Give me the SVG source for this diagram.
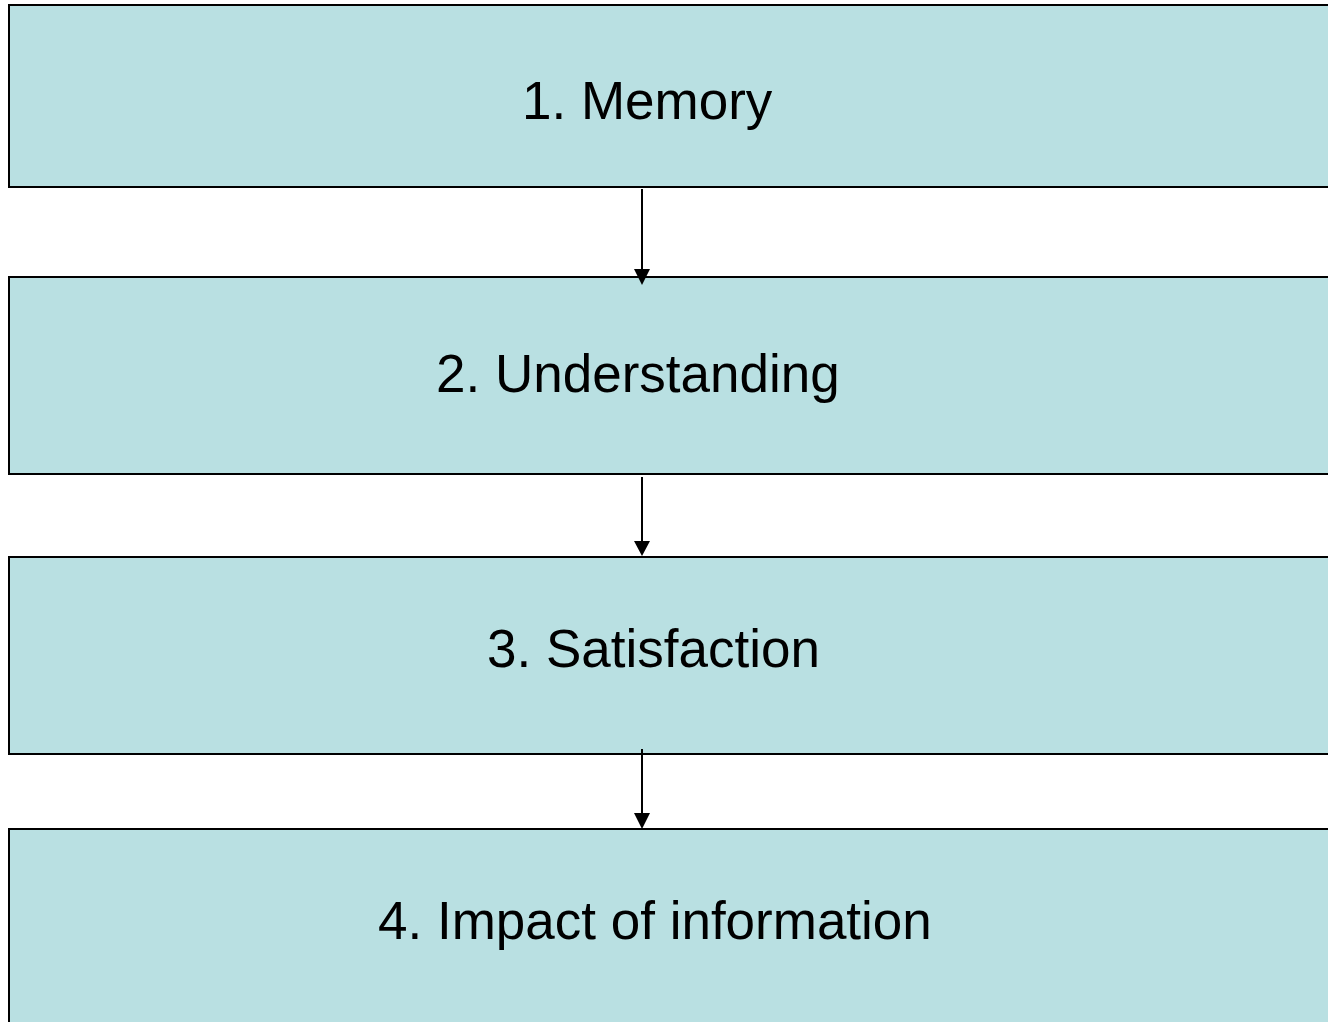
<svg xmlns="http://www.w3.org/2000/svg" width="1328" height="1022" viewBox="0 0 1328 1022">
  <style>
    .box { fill: #B9E0E2; stroke: #000; stroke-width: 2; }
    .label { font-family: "Liberation Sans", Arial, sans-serif; font-size: 53px; fill: #000; }
    .link { stroke: #000; stroke-width: 2; fill: none; }
    .head { fill: #000; }
  </style>
  <rect width="1328" height="1022" fill="#fff"/>

  <g id="node-memory">
    <rect class="box" x="9" y="5" width="1340" height="182"/>
    <text class="label" x="522" y="119">1. Memory</text>
  </g>
  <g id="node-understanding">
    <rect class="box" x="9" y="277" width="1340" height="197"/>
    <text class="label" x="436" y="392">2. Understanding</text>
  </g>
  <g id="node-satisfaction">
    <rect class="box" x="9" y="557" width="1340" height="197"/>
    <text class="label" x="487" y="667">3. Satisfaction</text>
  </g>
  <g id="node-impact">
    <rect class="box" x="9" y="829" width="1340" height="210"/>
    <text class="label" x="378" y="939">4. Impact of information</text>
  </g>

  <g id="connectors">
    <line class="link" x1="642" y1="189" x2="642" y2="272"/>
    <polygon class="head" points="634,269 650,269 642,285"/>
    <line class="link" x1="642" y1="477" x2="642" y2="544"/>
    <polygon class="head" points="634,541 650,541 642,556"/>
    <line class="link" x1="642" y1="749" x2="642" y2="816"/>
    <polygon class="head" points="634,813 650,813 642,829"/>
  </g>
</svg>
